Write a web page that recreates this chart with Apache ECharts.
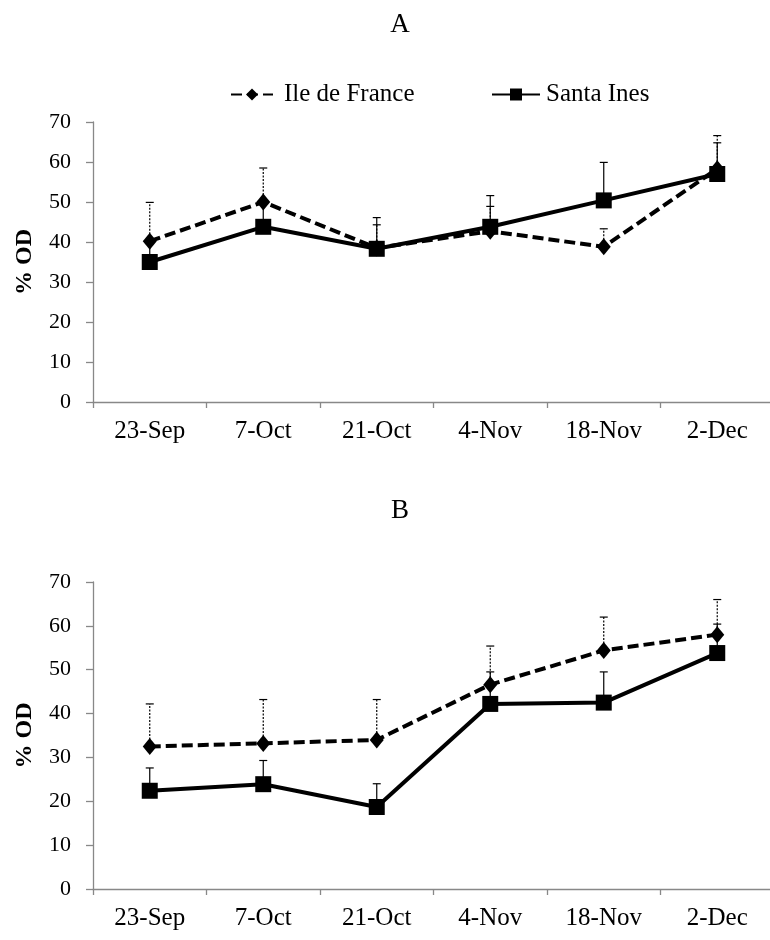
<!DOCTYPE html>
<html>
<head>
<meta charset="utf-8">
<script src="https://cdn.jsdelivr.net/npm/echarts@6/dist/echarts.min.js"></script>
<style>
html,body{margin:0;padding:0;background:#fff;}
#c{width:770px;height:940px;}
</style>
</head>
<body>
<div id="c"></div>
<script>
var categories = ['23-Sep', '7-Oct', '21-Oct', '4-Nov', '18-Nov', '2-Dec'];
var yTicks = [0, 10, 20, 30, 40, 50, 60, 70];

// Panel A
var aIleDeFrance = [40.2, 50.0, 38.5, 42.7, 38.8, 58.3];
var aIleDeFranceErrTop = [49.9, 58.5, 44.3, 48.9, 43.3, 66.6];
var aSantaInes = [35.0, 43.8, 38.3, 43.8, 50.4, 57.0];
var aSantaInesErrTop = [40.0, 49.5, 46.1, 51.6, 59.9, 64.8];

// Panel B
var bIleDeFrance = [32.5, 33.2, 34.0, 46.6, 54.4, 58.0];
var bIleDeFranceErrTop = [42.2, 43.2, 43.2, 55.4, 62.0, 66.0];
var bSantaInes = [22.4, 23.9, 18.7, 42.2, 42.5, 53.8];
var bSantaInesErrTop = [27.6, 29.3, 24.0, 49.5, 49.5, 60.4];

var FONT = '"Liberation Serif", "Times New Roman", serif';

function errData(vals, tops) {
  return vals.map(function (v, i) { return [i, v, tops[i]]; });
}

function errSeries(name, vals, tops, axisIdx, dashed) {
  return {
    type: 'custom',
    name: name + ' err',
    xAxisIndex: axisIdx,
    yAxisIndex: axisIdx,
    z: 1,
    silent: true,
    data: errData(vals, tops),
    renderItem: function (params, api) {
      var x = api.value(0);
      var p0 = api.coord([x, api.value(1)]);
      var p1 = api.coord([x, api.value(2)]);
      var style = { stroke: '#000', lineWidth: 1.2, lineDash: dashed ? [2, 1.5] : null };
      return {
        type: 'group',
        children: [
          { type: 'line', shape: { x1: p0[0], y1: p0[1], x2: p1[0], y2: p1[1] }, style: style },
          { type: 'line', shape: { x1: p1[0] - 4, y1: p1[1], x2: p1[0] + 4, y2: p1[1] }, style: { stroke: '#000', lineWidth: 1.2 } }
        ]
      };
    }
  };
}

function lineSeries(name, vals, axisIdx, dashed) {
  return {
    type: 'line',
    name: name,
    xAxisIndex: axisIdx,
    yAxisIndex: axisIdx,
    z: 3,
    data: vals,
    symbol: dashed ? 'diamond' : 'rect',
    symbolSize: dashed ? [14, 17] : 16,
    color: '#000',
    itemStyle: { color: '#000' },
    lineStyle: { color: '#000', width: 4, type: dashed ? [11, 5] : 'solid' },
    animation: false
  };
}

function xAxis(gridIdx) {
  return {
    type: 'category',
    gridIndex: gridIdx,
    data: categories,
    boundaryGap: true,
    axisLine: { lineStyle: { color: '#888', width: 1.3 } },
    axisTick: { show: true, length: 6, inside: false, lineStyle: { color: '#888', width: 1.3 } },
    axisLabel: { color: '#000', fontFamily: FONT, fontSize: 25, margin: 17 }
  };
}

function yAxis(gridIdx) {
  return {
    type: 'value',
    gridIndex: gridIdx,
    min: yTicks[0],
    max: yTicks[yTicks.length - 1],
    interval: 10,
    name: '% OD',
    nameLocation: 'middle',
    nameRotate: 90,
    nameGap: 56,
    nameTextStyle: { color: '#000', fontFamily: FONT, fontSize: 24, fontWeight: 'bold' },
    axisLine: { show: true, lineStyle: { color: '#888', width: 1.3 } },
    axisTick: { show: true, length: 7, lineStyle: { color: '#888', width: 1.3 } },
    splitLine: { show: false },
    axisLabel: { color: '#000', fontFamily: FONT, fontSize: 22, margin: 22 }
  };
}

var chart = echarts.init(document.getElementById('c'), null, { renderer: 'canvas' });
chart.setOption({
  backgroundColor: '#fff',
  animation: false,
  title: [
    { text: 'A', left: 395, top: 6, textAlign: 'center', textStyle: { fontFamily: FONT, fontSize: 27, fontWeight: 'normal', color: '#000' } },
    { text: 'B', left: 395, top: 492, textAlign: 'center', textStyle: { fontFamily: FONT, fontSize: 27, fontWeight: 'normal', color: '#000' } }
  ],
  legend: [
    { data: ['Ile de France'], left: 225, top: 77, itemWidth: 42, itemHeight: 15, selectedMode: false,
      textStyle: { fontFamily: FONT, fontSize: 25, color: '#000', padding: [0, 0, 0, 6] } },
    { data: ['Santa Ines'], left: 486, top: 77, itemWidth: 48, itemHeight: 15, selectedMode: false,
      textStyle: { fontFamily: FONT, fontSize: 25, color: '#000', padding: [0, 0, 0, 1] } }
  ],
  grid: [
    { left: 93, width: 681, top: 122, height: 280, containLabel: false, outerBoundsMode: 'none' },
    { left: 93, width: 681, top: 582, height: 307, containLabel: false, outerBoundsMode: 'none' }
  ],
  xAxis: [xAxis(0), xAxis(1)],
  yAxis: [yAxis(0), yAxis(1)],
  series: [
    errSeries('Ile de France', aIleDeFrance, aIleDeFranceErrTop, 0, true),
    errSeries('Santa Ines', aSantaInes, aSantaInesErrTop, 0, false),
    lineSeries('Ile de France', aIleDeFrance, 0, true),
    lineSeries('Santa Ines', aSantaInes, 0, false),
    errSeries('Ile de France', bIleDeFrance, bIleDeFranceErrTop, 1, true),
    errSeries('Santa Ines', bSantaInes, bSantaInesErrTop, 1, false),
    lineSeries('Ile de France', bIleDeFrance, 1, true),
    lineSeries('Santa Ines', bSantaInes, 1, false)
  ]
});
</script>
</body>
</html>
